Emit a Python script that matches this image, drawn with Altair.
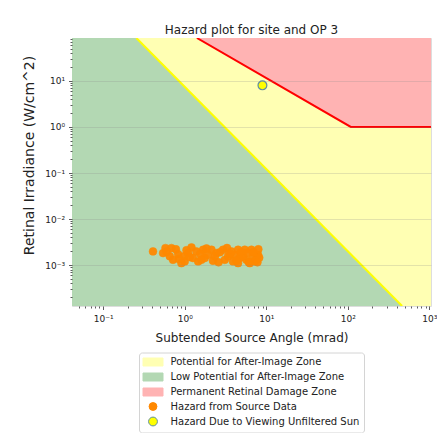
import altair as alt
import pandas as pd

# ---- axis extents ----
X_MIN, X_MAX = 0.0414, 1050.0
Y_MIN, Y_MAX = 1.29e-4, 85.8

# ---- hazard from source data (mrad, W/cm^2) ----
src_angle = [0.408, 0.542, 0.580, 0.687, 0.655, 0.718, 0.828, 0.98, 1.0, 1.21,
             1.26, 1.39, 1.68, 1.76, 2.13, 2.22, 2.45, 2.95, 3.10, 3.74,
             3.91, 4.51, 4.73, 5.45, 5.71, 6.58, 6.89, 7.22, 6.28, 4.51,
             3.40, 1.93, 1.10, 1.46, 0.91, 4.11, 5.19, 7.93, 7.58,
             0.60, 0.78, 0.85, 1.05, 1.15, 1.55, 1.85, 2.35, 2.70, 3.30,
             3.60, 4.30, 4.90, 5.90, 6.10, 7.00, 7.80, 8.20, 8.00, 2.60, 1.60]
src_irr = [1.98e-3, 1.82e-3, 2.34e-3, 2.34e-3, 1.55e-3, 1.30e-3, 1.73e-3, 1.55e-3, 1.20e-3, 2.42e-3,
           1.42e-3, 1.98e-3, 2.15e-3, 1.42e-3, 2.15e-3, 1.24e-3, 1.82e-3, 2.15e-3, 1.30e-3, 1.98e-3,
           1.20e-3, 2.15e-3, 1.42e-3, 2.15e-3, 1.30e-3, 2.15e-3, 1.55e-3, 1.20e-3, 1.10e-3, 1.10e-3,
           1.55e-3, 1.67e-3, 1.82e-3, 1.20e-3, 1.10e-3, 1.67e-3, 1.55e-3, 1.67e-3, 1.30e-3,
           1.95e-3, 2.20e-3, 1.35e-3, 2.10e-3, 1.50e-3, 1.75e-3, 2.30e-3, 1.55e-3, 1.90e-3, 2.35e-3,
           1.75e-3, 1.25e-3, 1.90e-3, 1.85e-3, 1.15e-3, 1.90e-3, 1.15e-3, 1.45e-3, 2.20e-3, 1.15e-3, 1.30e-3]

# ---- unfiltered sun ----
sun_angle = [8.98]
sun_irr = [8.03]

# ---- zone boundaries ----
after_x = [X_MIN, X_MAX]
after_y = [Y_MAX, Y_MAX]
low_x = [X_MIN, 0.255, 464.0]
low_y = [Y_MAX, Y_MAX, Y_MIN]
perm_x = [1.41, 109.0, X_MAX]
perm_y = [Y_MAX, 1.0, 1.0]

names = ["Potential for After-Image Zone",
         "Low Potential for After-Image Zone",
         "Permanent Retinal Damage Zone",
         "Hazard from Source Data",
         "Hazard Due to Viewing Unfiltered Sun"]
colors = ["#ffffb3", "#b3d8b3", "#ffb3b3", "#ff8800", "#ffff00"]
edge_colors = ["#ffffb3", "#b3d8b3", "#ffb3b3", "#ff8800", "#5f8fa0"]
RECT = "M-2,-0.8H2V0.8H-2Z"
shapes = [RECT, RECT, RECT, "circle", "circle"]
sizes = [100, 100, 100, 62, 78]

FONT = "DejaVu Sans"

def minor_ticks(lo, hi, emin, emax):
    vals = []
    for e in range(emin, emax + 1):
        for d in range(1, 10):
            v = d * 10.0 ** e
            if lo <= v <= hi:
                vals.append(v)
    return vals

xticks = minor_ticks(X_MIN, X_MAX, -2, 3)
yticks = minor_ticks(Y_MIN, Y_MAX, -4, 2)

MAJOR = "abs(log(datum.value)/LN10 - round(log(datum.value)/LN10)) < 0.001"
LABEL = ("(" + MAJOR + ") ? ('10' + (round(log(datum.value)/LN10) < 0 ? '\u207b' : '') + "
         "['\u2070','\u00b9','\u00b2','\u00b3','\u2074'][abs(round(log(datum.value)/LN10))]) : ''")

xscale = alt.Scale(type="log", domain=[X_MIN, X_MAX], nice=False)
yscale = alt.Scale(type="log", domain=[Y_MIN, Y_MAX], nice=False)

common_axis = dict(
    domain=False, tickColor="#333", tickWidth=0.8,
    tickSize={"condition": {"test": MAJOR, "value": 3.5}, "value": 2},
    labelExpr=LABEL, labelFont=FONT, labelFontSize=9, labelColor="#222",
    labelOverlap=False, labelFlush=False,
    titleFont=FONT, titleFontWeight="normal", titleColor="#222",
)
xaxis = alt.Axis(values=xticks, grid=False, labelPadding=5, titlePadding=9,
                 titleFontSize=12, **common_axis)
yaxis = alt.Axis(values=yticks, grid=True, gridColor="#8a8a8a", gridWidth=0.8,
                 gridOpacity={"condition": {"test": MAJOR, "value": 0.3}, "value": 0},
                 labelPadding=4, titlePadding=8, titleFontSize=14, titleY=117,
                 zindex=1, **common_axis)

legend = alt.Legend(
    title=None, orient="none", legendX=67, legendY=314.5, direction="vertical",
    labelFont=FONT, labelFontSize=10, labelColor="#222", labelOffset=12, labelLimit=400,
    fillColor="white", strokeColor="#d4d4d4", cornerRadius=3, padding=4,
    rowPadding=2, symbolOffset=4.5, symbolOpacity=1, symbolStrokeWidth=1,
)

df_after = pd.DataFrame({"x": after_x, "y": after_y, "y2": Y_MIN, "series": names[0]})
df_low = pd.DataFrame({"x": low_x, "y": low_y, "y2": Y_MIN, "series": names[1]})
df_perm = pd.DataFrame({"x": perm_x, "y": perm_y, "y2": Y_MAX, "series": names[2]})
df_src = pd.DataFrame({"x": src_angle, "y": src_irr, "series": names[3]})
df_sun = pd.DataFrame({"x": sun_angle, "y": sun_irr, "series": names[4]})

X = alt.X("x:Q", scale=xscale, axis=xaxis, title="Subtended Source Angle (mrad)")
Y = alt.Y("y:Q", scale=yscale, axis=yaxis, title="Retinal Irradiance (W/cm^2)")
C = alt.Color("series:N", scale=alt.Scale(domain=names, range=colors), legend=legend)
S = alt.Shape("series:N", scale=alt.Scale(domain=names, range=shapes), legend=legend)
Z = alt.Size("series:N", scale=alt.Scale(type="ordinal", domain=names, range=sizes), legend=legend)
K = alt.Stroke("series:N", scale=alt.Scale(domain=names, range=edge_colors), legend=legend)

def zone(df):
    return alt.Chart(df).mark_area(opacity=1, clip=True).encode(x=X, y=Y, y2="y2:Q", color=C)

after = zone(df_after)
low = zone(df_low)
perm = zone(df_perm)
low_line = alt.Chart(df_low.iloc[1:]).mark_line(color="#ffff00", strokeWidth=2, clip=True).encode(x=X, y=Y)
perm_line = alt.Chart(df_perm).mark_line(color="#ff0000", strokeWidth=2, clip=True).encode(x=X, y=Y)
src = alt.Chart(df_src).mark_point(filled=True, opacity=0.95, strokeWidth=0.5).encode(
    x=X, y=Y, color=C, shape=S, size=Z, stroke=K)
sun = alt.Chart(df_sun).mark_point(filled=True, opacity=1, strokeWidth=1.2).encode(
    x=X, y=Y, color=C, shape=S, size=Z, stroke=K)

chart = alt.layer(after, low, perm, low_line, perm_line, src, sun).properties(
    width=359, height=268,
    title=alt.TitleParams("Hazard plot for site and OP 3", font=FONT, fontSize=12,
                          fontWeight="normal", color="#222", offset=-2, frame="group",
                          anchor="middle"),
    padding={"left": 64, "top": 30, "right": 6, "bottom": 127},
    autosize="none",
).configure_view(stroke=None).configure(background="white")

chart.save("out.html", embed_options={"renderer": "svg", "actions": False})
